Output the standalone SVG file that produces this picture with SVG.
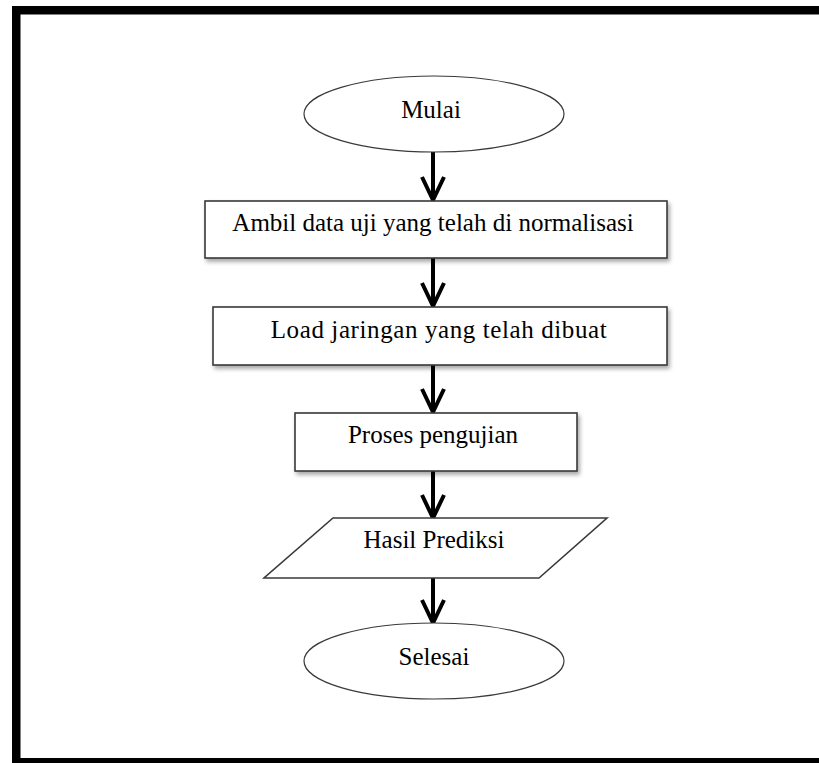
<svg xmlns="http://www.w3.org/2000/svg" width="819" height="763" viewBox="0 0 819 763">
  <style>
    .lbl { font-family: "Liberation Serif", "Times New Roman", serif; font-size: 25px; fill: #000; text-anchor: middle; }
    .box { fill: #fff; stroke: #3a3a3a; stroke-width: 1.6; }
    .term { fill: #fff; stroke: #3a3a3a; stroke-width: 1.2; }
    .conn { fill: none; stroke: #000; stroke-width: 4; marker-end: url(#arr); }
  </style>
  <defs>
    <marker id="arr" markerUnits="userSpaceOnUse" viewBox="-28 -15 32 30" refX="0" refY="0" markerWidth="32" markerHeight="30" orient="auto">
      <path d="M -23 -11 L 0 0 L -23 11" fill="none" stroke="#000" stroke-width="4" stroke-linejoin="miter"/>
    </marker>
    <filter id="shadow" x="-10%" y="-20%" width="130%" height="160%">
      <feDropShadow dx="2" dy="3" stdDeviation="2" flood-color="#000" flood-opacity="0.35"/>
    </filter>
  </defs>
  <rect width="819" height="763" fill="#fff"/>
  <rect id="frame" x="16.25" y="10.25" width="830" height="752" fill="none" stroke="#000" stroke-width="8.5"/>

  <g id="connectors">
    <path class="conn" d="M 433 152 L 433 200"/>
    <path class="conn" d="M 433 258 L 433 306"/>
    <path class="conn" d="M 433 365 L 433 412"/>
    <path class="conn" d="M 433 471 L 433 518"/>
    <path class="conn" d="M 433 578 L 433 623"/>
  </g>

  <g id="mulai">
    <ellipse class="term" cx="434" cy="114" rx="130" ry="38"/>
    <text class="lbl" x="431" y="118">Mulai</text>
  </g>
  <g id="ambil-data">
    <rect class="box" x="205" y="201" width="462" height="57" filter="url(#shadow)"/>
    <text class="lbl" x="433" y="231">Ambil data uji yang telah di normalisasi</text>
  </g>
  <g id="load-jaringan">
    <rect class="box" x="213" y="307" width="454" height="58" filter="url(#shadow)"/>
    <text class="lbl" x="439" y="338" letter-spacing="0.6">Load jaringan yang telah dibuat</text>
  </g>
  <g id="proses-pengujian">
    <rect class="box" x="295" y="413" width="282" height="58" filter="url(#shadow)"/>
    <text class="lbl" x="433" y="443">Proses pengujian</text>
  </g>
  <g id="hasil-prediksi">
    <polygon class="box" points="333,518 607,518 539,578 264,578"/>
    <text class="lbl" x="434" y="548">Hasil Prediksi</text>
  </g>
  <g id="selesai">
    <ellipse class="term" cx="434" cy="661" rx="130" ry="38"/>
    <text class="lbl" x="434" y="665">Selesai</text>
  </g>
</svg>
